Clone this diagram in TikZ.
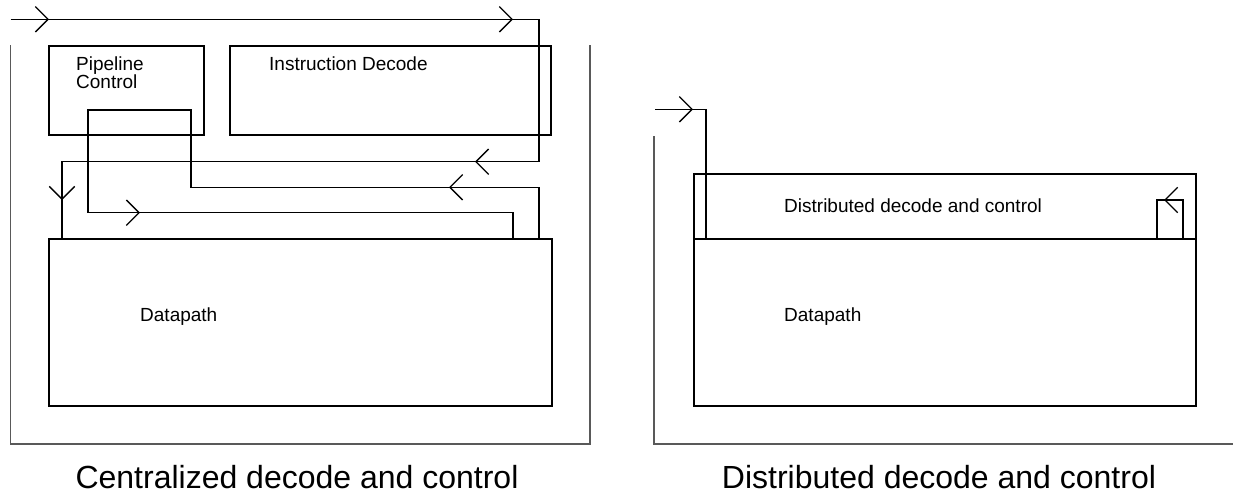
\documentclass[tikz,border=0pt]{standalone}
\usepackage{fontspec}
\setmainfont{Liberation Sans}
\usetikzlibrary{arrows.meta,positioning}

\begin{document}
\begin{tikzpicture}[x=1pt, y=-1pt,
  box/.style={draw, line width=1.1pt, inner sep=0pt, outer sep=0pt,
    anchor=north west},
  lbl/.style={inner sep=0pt, anchor=base west, align=left,
    font=\fontsize{19}{18}\selectfont},
  caption/.style={inner sep=0pt, anchor=base, font=\fontsize{32}{36}\selectfont},
  wire/.style={line width=1.3pt, line join=miter},
  chev/.style={line width=1.3pt, -{Straight Barb[length=12.7pt, width=25.4pt]}},
  frame/.style={draw=black!65, line width=1.8pt}]
  \useasboundingbox (0,0) rectangle (1233,498);

  % centralized: control and decode blocks over the datapath
  \node[box, minimum width=155pt, minimum height=89pt] (pc) at (49,46) {};
  \node[box, minimum width=321pt, minimum height=89pt] (idec) at (230,46) {};
  \node[box, minimum width=503pt, minimum height=167pt] (dpL) at (49,239) {};
  \node[lbl] (pcT) at (76,88) {Pipeline\\Control};
  \node[lbl] (idecT) at (269,70) {Instruction Decode};
  \node[lbl] (dpLT) at (140,321) {Datapath};

  % decode loop
  \coordinate (inL) at (10.5,19.3);
  \draw[wire] (inL) -- (539,19.3) -- (539,161.7) -- (62,161.7)
    -- (62,0 |- dpL.north);
  \draw[chev] (40,19.3) -- (49,19.3);
  \draw[chev] (504,19.3) -- (513,19.3);
  \draw[chev] (484,161.7) -- (475,161.7);
  \draw[chev] (62,191) -- (62,200);

  % pipeline control loop
  \draw[wire] (539,0 |- dpL.north) -- (539,187.3) -- (191,187.3) -- (191,110)
    -- (88,110) -- (88,212.7) -- (513,212.7) -- (513,0 |- dpL.north);
  \draw[chev] (458,187.3) -- (449,187.3);
  \draw[chev] (131,212.7) -- (140,212.7);

  \draw[frame] (10.5,45) -- (10.5,444) -- (590,444) -- (590,45);
  \node[caption] (capL) at (297,488) {Centralized decode and control};

  % distributed: control spread along the datapath
  \node[box, minimum width=502pt, minimum height=65pt] (dist) at (694,174) {};
  \node[box, minimum width=502pt, minimum height=167pt] (dpR) at (694,239) {};
  \node[lbl] (distT) at (784,212) {Distributed decode and control};
  \node[lbl] (dpRT) at (784,321) {Datapath};

  \coordinate (inR) at (655,109.3);
  \draw[wire] (inR) -- (706,109.3) -- (706,0 |- dist.south);
  \draw[chev] (684,109.3) -- (693,109.3);

  \draw[wire] (1183,0 |- dist.south) -- (1183,200) -- (1157,200)
    -- (1157,0 |- dist.south);
  \draw[chev] (1173,200) -- (1164,200);

  \draw[frame] (654,136) -- (654,444) -- (1233,444);
  \node[caption] (capR) at (939,488) {Distributed decode and control};
\end{tikzpicture}
\end{document}
